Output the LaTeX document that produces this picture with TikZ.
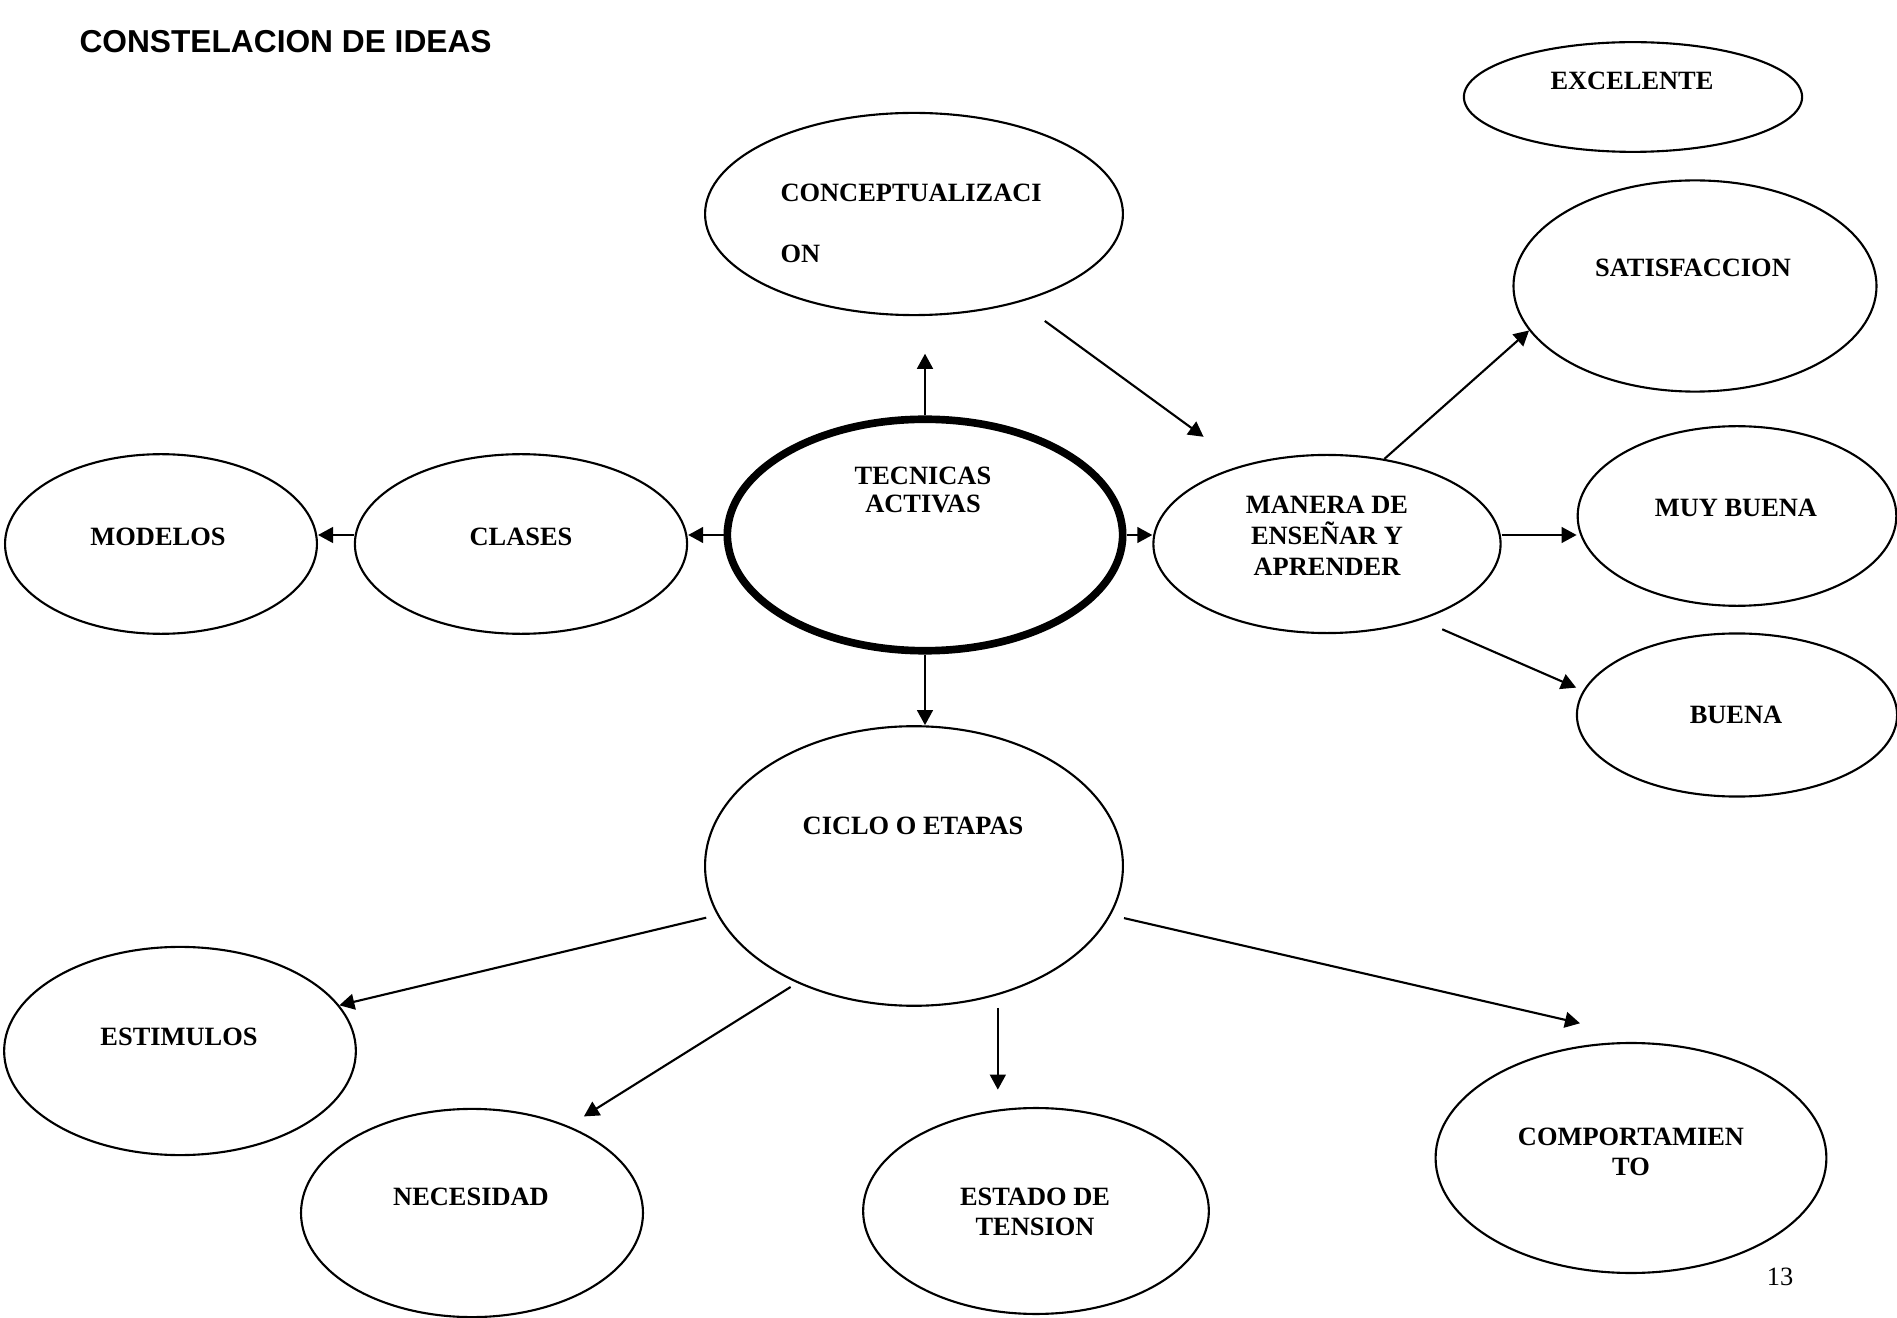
\documentclass[tikz,border=0pt]{standalone}
\usepackage{fontspec}
\setmainfont{Liberation Serif}
\newfontfamily\headfont{Liberation Sans}
\usepackage{tikz}
\usetikzlibrary{arrows.meta,shapes.geometric}

\begin{document}
\begin{tikzpicture}[x=0.0133cm, y=-0.0133cm,
    idea/.style 2 args={ellipse, draw, line width=0.8pt, inner sep=0pt, minimum width=#1, minimum height=#2},
    txt/.style={font=\bfseries, align=center, inner sep=0pt},
    arr/.style={-{Triangle[length=0.2cm, width=0.21cm]}, line width=0.8pt}]
    \useasboundingbox (0,0) rectangle (1897,1318);

    \node[anchor=west, inner sep=0pt, font=\headfont\bfseries\fontsize{12}{14}\selectfont] (title) at (79,42) {CONSTELACION DE IDEAS};

    \node[idea={4.50cm}{1.46cm}] (excel) at (1633,97) {};
    \node[idea={5.56cm}{2.69cm}] (conc) at (914,214) {};
    \node[idea={4.83cm}{2.81cm}] (satis) at (1695,286) {};
    \node[idea={5.26cm}{3.08cm}, line width=2.9pt] (tec) at (925,535) {};
    \node[idea={4.62cm}{2.37cm}] (manera) at (1327,544) {};
    \node[idea={4.24cm}{2.39cm}] (muy) at (1737,516) {};
    \node[idea={4.26cm}{2.17cm}] (buena) at (1737,715) {};
    \node[idea={4.15cm}{2.39cm}] (modelos) at (161,544) {};
    \node[idea={4.42cm}{2.39cm}] (clases) at (521,544) {};
    \node[idea={5.56cm}{3.72cm}] (ciclo) at (914,866) {};
    \node[idea={4.68cm}{2.77cm}] (estim) at (180,1051) {};
    \node[idea={4.55cm}{2.77cm}] (neces) at (472,1213) {};
    \node[idea={4.60cm}{2.74cm}] (estado) at (1036,1211) {};
    \node[idea={5.20cm}{3.06cm}] (comport) at (1631,1158) {};

    \node[txt] (excel-t) at (1632,81) {EXCELENTE};
    \node[txt, anchor=north west, align=left, font=\bfseries\fontsize{10}{23.4}\selectfont] (conc-t) at (780,183) {CONCEPTUALIZACI\\ON};
    \node[txt] (satis-t) at (1693,268) {SATISFACCION};
    \node[txt, font=\bfseries\fontsize{10}{10.9}\selectfont] (tec-t) at (923,490) {TECNICAS\\ACTIVAS};
    \node[txt, font=\bfseries\fontsize{10}{11.7}\selectfont] (manera-t) at (1327,536) {MANERA DE\\ENSEÑAR Y\\APRENDER};
    \node[txt] (muy-t) at (1736,508) {MUY BUENA};
    \node[txt] (buena-t) at (1736,715) {BUENA};
    \node[txt] (modelos-t) at (158,537) {MODELOS};
    \node[txt] (clases-t) at (521,537) {CLASES};
    \node[txt] (ciclo-t) at (913,826) {CICLO O ETAPAS};
    \node[txt] (estim-t) at (179,1037) {ESTIMULOS};
    \node[txt] (neces-t) at (471,1197) {NECESIDAD};
    \node[txt, font=\bfseries\fontsize{10}{11.3}\selectfont] (estado-t) at (1035,1212) {ESTADO DE\\TENSION};
    \node[txt, font=\bfseries\fontsize{10}{11.3}\selectfont] (comport-t) at (1631,1152) {COMPORTAMIEN\\TO};
    \node[inner sep=0pt] (pag) at (1780,1277) {13};

    \draw[arr, shorten >=0.5cm] (tec.north) -- (tec.north |- conc.south);
    \draw[arr, shorten <=0.42cm, shorten >=0.64cm] (conc.-40) -- (manera.137);
    \draw[arr] (manera.56) -- (satis.195);
    \draw[arr] (tec.east) -- (manera.west |- tec.east);
    \draw[arr] (manera.east |- tec.east) -- (muy.west |- tec.east);
    \draw[arr, shorten <=0.31cm, shorten >=0.1cm] (manera.-39) -- (buena.171);
    \draw[arr] (tec.west) -- (clases.east |- tec.west);
    \draw[arr] (clases.west |- tec.west) -- (modelos.east |- tec.west);
    \draw[arr] (tec.south) -- (tec.south |- ciclo.north);
    \draw[arr, shorten <=0.15cm] (ciclo.194) -- (estim.16);
    \draw[arr, shorten <=0.1cm, shorten >=0.24cm] (ciclo.225) -- (neces.42);
    \draw[arr, shorten <=0.17cm, shorten >=0.23cm] (ciclo.-57) -- (ciclo.-57 |- estado.north);
    \draw[arr, shorten <=0.18cm, shorten >=1.26cm] (ciclo.-14) -- (comport.70);
\end{tikzpicture}
\end{document}
